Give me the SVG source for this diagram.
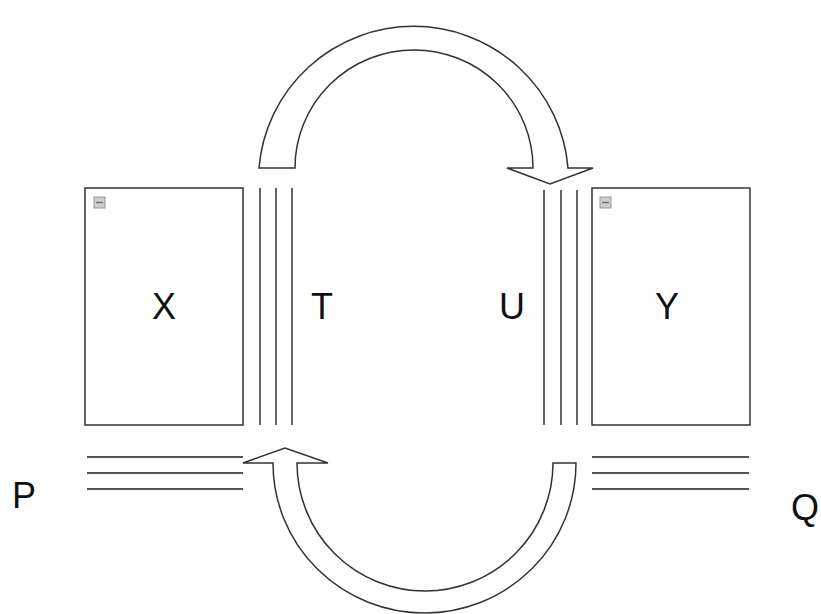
<svg xmlns="http://www.w3.org/2000/svg" width="821" height="614" viewBox="0 0 821 614">
<style>
.box{fill:#fff;stroke:#333;stroke-width:1.5}
.ln{stroke:#555;stroke-width:1.8;fill:none}
.arr{fill:#fff;stroke:#333;stroke-width:1.5;stroke-linejoin:miter}
.lbl{font-family:"Liberation Sans",Arial,sans-serif;font-size:36px;fill:#111;text-anchor:middle}
.icon{fill:#ccc;stroke:#999;stroke-width:1}
</style>
<rect width="821" height="614" fill="#fff"/>
<g id="X">
<rect class="box" x="85" y="188" width="158" height="237"/>
<rect class="icon" x="94" y="197" width="11" height="11"/>
<line x1="96" y1="202.5" x2="103" y2="202.5" stroke="#666" stroke-width="1.2"/>
<text class="lbl" x="164" y="319">X</text>
</g>
<g id="Y">
<rect class="box" x="592" y="188" width="158" height="237"/>
<rect class="icon" x="600" y="197" width="11" height="11"/>
<line x1="602" y1="202.5" x2="609" y2="202.5" stroke="#666" stroke-width="1.2"/>
<text class="lbl" x="667" y="319">Y</text>
</g>
<g id="T">
<line class="ln" x1="260" y1="188" x2="260" y2="425"/>
<line class="ln" x1="276" y1="188" x2="276" y2="425"/>
<line class="ln" x1="292" y1="188" x2="292" y2="425"/>
<text class="lbl" x="322" y="319">T</text>
</g>
<g id="U">
<line class="ln" x1="544" y1="190" x2="544" y2="425"/>
<line class="ln" x1="561" y1="190" x2="561" y2="425"/>
<line class="ln" x1="577" y1="190" x2="577" y2="425"/>
<text class="lbl" x="512" y="319">U</text>
</g>
<g id="P">
<line class="ln" x1="87" y1="457" x2="243" y2="457"/>
<line class="ln" x1="87" y1="473" x2="243" y2="473"/>
<line class="ln" x1="87" y1="489" x2="243" y2="489"/>
<text class="lbl" x="24" y="508">P</text>
</g>
<g id="Q">
<line class="ln" x1="592" y1="457" x2="749" y2="457"/>
<line class="ln" x1="592" y1="473" x2="749" y2="473"/>
<line class="ln" x1="592" y1="489" x2="749" y2="489"/>
<text class="lbl" x="791" y="520" style="text-anchor:start">Q</text>
</g>
<g id="connectors">
<path class="arr" d="M259,168 A155,154 0 0 1 568,168 L593,168 L550,184 L507,168 L533,168 A119,118 0 0 0 295,168 Z"/>
<path class="arr" d="M576,463 A151.5,150 0 0 1 273,463 L243,463 L285,448 L328,463 L297,463 A128,128 0 0 0 553,463 Z"/>
</g>
</svg>
